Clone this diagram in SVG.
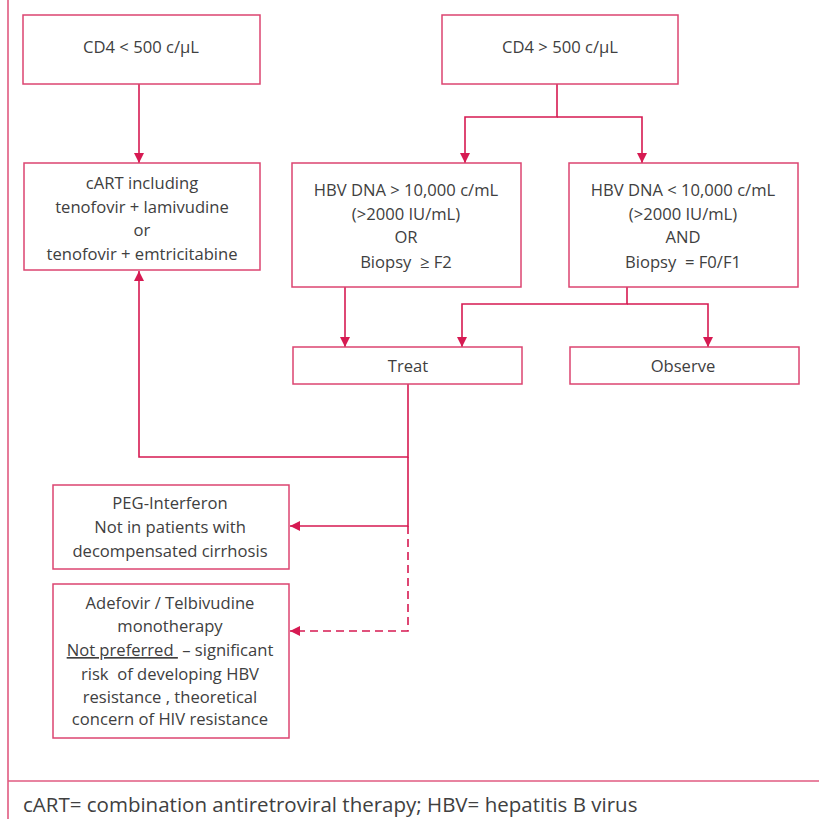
<svg xmlns="http://www.w3.org/2000/svg" width="819" height="819" viewBox="0 0 819 819">
<defs>
<style>
.box{fill:#ffffff;stroke:#dc4470;stroke-width:1.5}
.t{font-family:"Open Sans","Noto Sans","Liberation Sans",sans-serif;font-size:16.6px;fill:#404040;text-anchor:middle;white-space:pre}
.c{fill:none;stroke:#d61a52;stroke-width:1.6}
.d{stroke-dasharray:8,5}
.frame{fill:none;stroke:#e05a80;stroke-width:1.6}
</style>
<marker id="ah" viewBox="0 0 10 10" refX="10" refY="5" markerWidth="10" markerHeight="10" markerUnits="userSpaceOnUse" orient="auto">
<path d="M0,0 L10,5 L0,10 Z" fill="#d61a52"/>
</marker>
</defs>
<rect width="819" height="819" fill="#ffffff"/>
<g id="frame">
<line class="frame" x1="8" y1="0" x2="8" y2="819"/>
<line class="frame" x1="8" y1="781" x2="819" y2="781"/>
</g>
<g id="connectors">
<path class="c" d="M139,84 V163" marker-end="url(#ah)"/>
<path class="c" d="M557,84 V117 H465 V163" marker-end="url(#ah)"/>
<path class="c" d="M557,117 H642 V163" marker-end="url(#ah)"/>
<path class="c" d="M345,287 V347" marker-end="url(#ah)"/>
<path class="c" d="M627,287 V304 H462 V347" marker-end="url(#ah)"/>
<path class="c" d="M627,304 H708 V347" marker-end="url(#ah)"/>
<path class="c" d="M408,384 V457 H139 V271" marker-end="url(#ah)"/>
<path class="c" d="M408,457 V526 H290" marker-end="url(#ah)"/>
<path class="c d" d="M408,526 V631 H290" marker-end="url(#ah)"/>
</g>
<g id="n-cd4-low">
<rect class="box" x="23" y="15" width="237" height="69"/>
<text class="t" x="141" y="53">CD4 &lt; 500 c/µL</text>
</g>
<g id="n-cd4-high">
<rect class="box" x="442" y="15" width="236" height="69"/>
<text class="t" x="560" y="53">CD4 &gt; 500 c/µL</text>
</g>
<g id="n-cart">
<rect class="box" x="24" y="163" width="236" height="107"/>
<text class="t" x="142" y="189">cART including</text>
<text class="t" x="142" y="213">tenofovir + lamivudine</text>
<text class="t" x="142" y="236">or</text>
<text class="t" x="142" y="260">tenofovir + emtricitabine</text>
</g>
<g id="n-hbv-high">
<rect class="box" x="292" y="163" width="229" height="124"/>
<text class="t" x="406" y="196">HBV DNA &gt; 10,000 c/mL</text>
<text class="t" x="406" y="220">(&gt;2000 IU/mL)</text>
<text class="t" x="406" y="243">OR</text>
<text class="t" x="406" y="268">Biopsy  ≥ F2</text>
</g>
<g id="n-hbv-low">
<rect class="box" x="569" y="163" width="229" height="124"/>
<text class="t" x="683" y="196">HBV DNA &lt; 10,000 c/mL</text>
<text class="t" x="683" y="220">(&gt;2000 IU/mL)</text>
<text class="t" x="683" y="243">AND</text>
<text class="t" x="683" y="268">Biopsy  = F0/F1</text>
</g>
<g id="n-treat">
<rect class="box" x="293" y="347" width="229" height="37"/>
<text class="t" x="408" y="372">Treat</text>
</g>
<g id="n-observe">
<rect class="box" x="570" y="347" width="229" height="37"/>
<text class="t" x="683" y="372">Observe</text>
</g>
<g id="n-peg">
<rect class="box" x="53" y="485" width="236" height="84"/>
<text class="t" x="170" y="509">PEG-Interferon</text>
<text class="t" x="170" y="533">Not in patients with</text>
<text class="t" x="170" y="557">decompensated cirrhosis</text>
</g>
<g id="n-adefovir">
<rect class="box" x="53" y="584" width="236" height="154"/>
<text class="t" x="170" y="609">Adefovir / Telbivudine</text>
<text class="t" x="170" y="632">monotherapy</text>
<text class="t" x="170" y="656"><tspan text-decoration="underline">Not preferred </tspan> – significant</text>
<text class="t" x="170" y="680">risk  of developing HBV</text>
<text class="t" x="170" y="703">resistance , theoretical</text>
<text class="t" x="170" y="725">concern of HIV resistance</text>
</g>
<g id="footer">
<text x="23" y="812" font-family="'Open Sans','Noto Sans','Liberation Sans',sans-serif" font-size="20.5" fill="#404040">cART= combination antiretroviral therapy; HBV= hepatitis B virus</text>
</g>
</svg>
